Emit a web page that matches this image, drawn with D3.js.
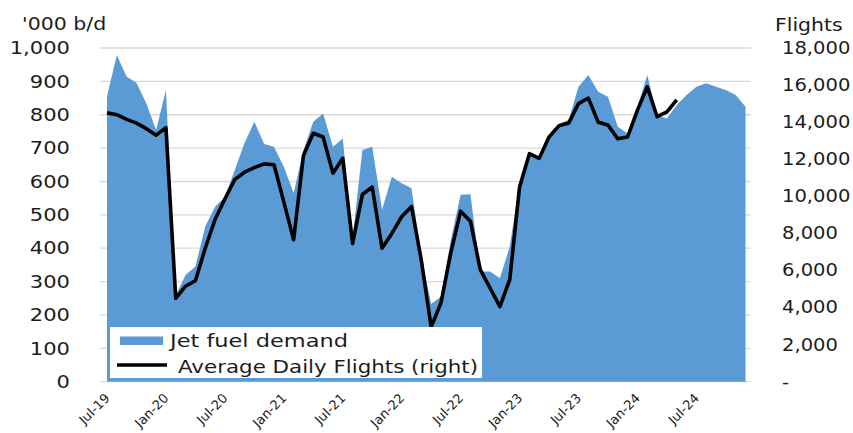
<!DOCTYPE html>
<html>
<head>
<meta charset="utf-8">
<script src="https://cdn.jsdelivr.net/npm/d3@7"></script>
<style>
  html, body { margin: 0; padding: 0; background: #fff; }
  svg { display: block; font-family: "DejaVu Sans", Verdana, sans-serif; }
</style>
</head>
<body>
<svg id="chart" width="853" height="433"></svg>
<script>
// monthly, Jul-19 .. Dec-24
const months = d3.timeMonth.range(new Date(2019, 6, 1), new Date(2025, 0, 1));

// jet fuel demand, '000 b/d (left axis)
const jetFuel = [
  855, 979, 914, 896, 834, 754, 874, 260, 320, 345, 465, 524,
  554, 634, 715, 779, 712, 704, 644, 565, 694, 779, 804, 704,
  729, 430, 694, 704, 515, 614, 595, 580, 375, 233, 255, 425,
  560, 562, 330, 330, 310, 405, 595, 679, 674, 739, 774, 784,
  884, 919, 869, 854, 764, 744, 824, 919, 799, 789, 829, 859,
  884, 894, 884, 874, 859, 824
];

// average daily flights (right axis), Jul-19 .. May-24
const flights = [
  14500, 14400, 14150, 13950, 13650, 13300, 13700, 4500, 5150, 5450, 7200, 8750,
  9850, 10900, 11300, 11550, 11750, 11700, 9700, 7650, 12200, 13400, 13200, 11250,
  12050, 7450, 10100, 10500, 7200, 8000, 8900, 9450, 6550, 2950, 4250, 6950,
  9200, 8650, 6050, 5050, 4050, 5500, 10500, 12300, 12050, 13200, 13800, 13950,
  15000, 15300, 14000, 13850, 13100, 13200, 14650, 15900, 14300, 14550, 15200
];

const tickLabels = ['Jul-19', 'Jan-20', 'Jul-20', 'Jan-21', 'Jul-21', 'Jan-22',
  'Jul-22', 'Jan-23', 'Jul-23', 'Jan-24', 'Jul-24'];
const leftTicks = [0, 100, 200, 300, 400, 500, 600, 700, 800, 900, 1000];
const rightTicks = [0, 2000, 4000, 6000, 8000, 10000, 12000, 14000, 16000, 18000];

const svg = d3.select('#chart');
const blue = '#5b9bd5';
const ink = '#1c1c1c';

const x = d3.scaleLinear().domain([0, months.length - 1]).range([107, 745.5]);
const yL = d3.scaleLinear().domain([0, 1000]).range([381.7, 48]);
const yR = d3.scaleLinear().domain([0, 18000]).range([381.7, 48]);

// gridlines
svg.append('g')
  .selectAll('line')
  .data(leftTicks)
  .join('line')
  .attr('x1', 100).attr('x2', 751)
  .attr('y1', d => yL(d)).attr('y2', d => yL(d))
  .attr('stroke', '#d9d9d9')
  .attr('stroke-width', 1.3);

// area
const area = d3.area()
  .x((d, i) => x(i))
  .y0(yL(0))
  .y1(d => yL(d));

svg.append('path')
  .datum(jetFuel)
  .attr('d', area)
  .attr('fill', blue);

// flights line
const line = d3.line()
  .x((d, i) => x(i))
  .y(d => yR(d));

svg.append('path')
  .datum(flights)
  .attr('d', line)
  .attr('fill', 'none')
  .attr('stroke', '#000')
  .attr('stroke-width', 3.6)
  .attr('stroke-linejoin', 'round');

// left axis
const leftAxis = svg.append('g')
  .attr('transform', 'translate(70,0)')
  .call(d3.axisLeft(yL).tickValues(leftTicks).tickSize(0).tickPadding(0)
    .tickFormat(d3.format(',')));
leftAxis.select('.domain').remove();
leftAxis.selectAll('text')
  .attr('x', 0)
  .attr('fill', ink)
  .attr('font-size', 18)
  .attr('font-family', '"DejaVu Sans", Verdana, sans-serif')
  .attr('transform', 'scale(1.17,1)');

// right axis
const rightAxis = svg.append('g')
  .attr('transform', 'translate(782,0)')
  .call(d3.axisRight(yR).tickValues(rightTicks).tickSize(0).tickPadding(0)
    .tickFormat(d => d === 0 ? '-' : d3.format(',')(d)));
rightAxis.select('.domain').remove();
rightAxis.selectAll('text')
  .attr('x', 0)
  .attr('fill', ink)
  .attr('font-size', 17)
  .attr('font-family', '"DejaVu Sans", Verdana, sans-serif')
  .attr('transform', 'scale(1.15,1)');

// bottom axis
const tickIdx = tickLabels.map((t, i) => i * 6);
const bottomAxis = svg.append('g')
  .call(d3.axisBottom(x).tickValues(tickIdx).tickSize(0)
    .tickFormat((d, i) => tickLabels[i]));
bottomAxis.select('.domain').remove();
bottomAxis.selectAll('text')
  .attr('x', 0).attr('y', 0).attr('dy', 0)
  .attr('text-anchor', 'end')
  .attr('fill', ink)
  .attr('font-size', 13)
  .attr('font-family', '"DejaVu Sans", Verdana, sans-serif')
  .attr('transform', 'translate(3,399) rotate(-45)');

// axis titles
function stretched(txt, tx, ty, size, sx, anchor) {
  svg.append('text')
    .attr('transform', `translate(${tx},${ty}) scale(${sx},1)`)
    .attr('text-anchor', anchor || 'start')
    .attr('dominant-baseline', 'central')
    .attr('font-size', size)
    .attr('fill', ink)
    .text(txt);
}
stretched("'000 b/d", 22, 24, 18, 1.14);
stretched('Flights', 775, 25, 17, 1.2);

// legend
const legend = svg.append('g');
legend.append('rect')
  .attr('x', 110).attr('y', 327)
  .attr('width', 372).attr('height', 51)
  .attr('fill', '#fff');
legend.append('rect')
  .attr('x', 120).attr('y', 336.5)
  .attr('width', 43).attr('height', 8.5)
  .attr('fill', blue);
legend.append('line')
  .attr('x1', 117).attr('x2', 167)
  .attr('y1', 365).attr('y2', 365)
  .attr('stroke', '#000').attr('stroke-width', 3.6);

function legendText(txt, tx, ty, width) {
  legend.append('text')
    .attr('x', tx).attr('y', ty)
    .attr('font-size', 17)
    .attr('fill', ink)
    .attr('textLength', width)
    .attr('lengthAdjust', 'spacingAndGlyphs')
    .text(txt);
}
legendText('Jet fuel demand', 170, 346.5, 178);
legendText('Average Daily Flights (right)', 178, 372.5, 300);
</script>
</body>
</html>
